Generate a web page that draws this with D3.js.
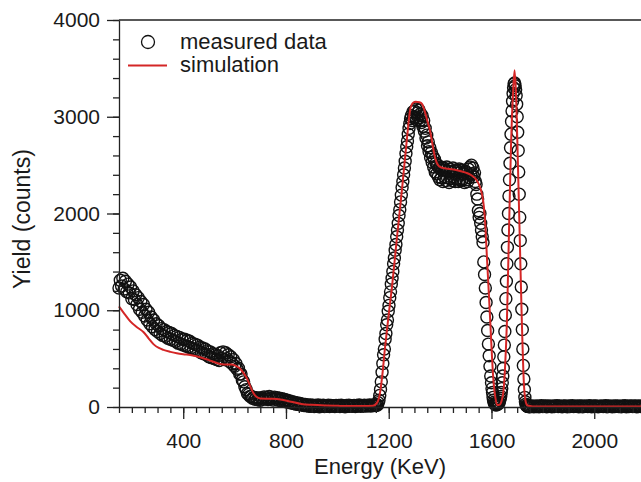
<!DOCTYPE html>
<html>
<head>
<meta charset="utf-8">
<script src="https://cdn.jsdelivr.net/npm/d3@7"></script>
<style>
  body { margin: 0; background: #fff; }
  svg text { font-family: "Liberation Sans", Arial, sans-serif; fill: #1a1a1a; }
</style>
</head>
<body>
<div id="chart"></div>
<script>
// measured spectrum, kept as runs of channels: first energy (keV), channel width, counts
const lowStart = 150, lowStep = 5;
const lowCounts = [
  1230, 1310, 1250, 1330, 1220, 1300, 1190, 1270, 1180, 1240,
  1120, 1200, 1110, 1160, 1060, 1130, 1010, 1090, 980, 1060,
  940, 1010, 900, 980, 860, 930, 830, 900, 800, 860,
  780, 840, 760, 810, 740, 800, 730, 780, 710, 770,
  700, 760, 690, 740, 680, 730, 660, 720, 650, 700,
  640, 700, 630, 690, 620, 680, 610, 660, 600, 650,
  590, 640, 580, 620, 560, 610, 550, 600, 540, 580,
  520, 570, 510, 550, 500, 540, 490, 530, 480, 560,
  500, 570, 490, 560, 500, 540, 470, 520, 450, 490,
  420, 450, 390, 400, 340, 340, 280, 260, 210, 180,
  140, 130, 110, 110, 90, 100, 80, 95, 75, 90,
  70
];
const midStart = 705, midStep = 5;
const midCounts = [
  95, 80, 105, 85, 100, 78, 110, 88, 96, 72, 102, 84, 95, 70, 90, 66, 85, 60, 78, 55,
  70, 48, 62, 40, 55, 35, 48, 28, 42, 25, 36, 20, 30, 15, 26, 12, 22, 8, 20, 6,
  18, 5, 16, 8, 20, 3, 15, 9, 18, 4, 14, 7, 19, 5, 16, 10, 13, 4, 17, 8,
  15, 5, 18, 9, 14, 3, 16, 8, 19, 6, 13, 10, 17, 4, 15, 9, 20, 7, 14, 11,
  18, 9, 16, 12, 21, 10, 18, 14, 20
];
const peakStart = 1150, peakStep = 3;
const peakCounts = [
  15, 25, 20, 45, 70, 120, 180, 260, 360, 450,
  540, 600, 700, 760, 850, 900, 990, 1050, 1130, 1190,
  1270, 1330, 1400, 1480, 1540, 1620, 1680, 1760, 1830, 1900,
  1980, 2040, 2120, 2190, 2270, 2330, 2400, 2470, 2540, 2620,
  2690, 2750, 2820, 2880, 2930, 2980, 3010, 2960, 3050, 2990,
  3060, 3000, 3080, 2970, 3040, 2990, 3070, 2960, 3030, 2940,
  3010, 2900, 2960, 2850, 2880, 2780, 2810, 2700, 2740, 2640,
  2680, 2580, 2630, 2530, 2590, 2480, 2560, 2430, 2520, 2410,
  2500, 2380, 2470, 2350, 2480, 2370, 2450, 2330, 2470, 2380,
  2450, 2340, 2480, 2370, 2440, 2320, 2460, 2360, 2430, 2340,
  2470, 2380, 2440, 2330, 2450, 2360, 2420, 2330, 2460, 2350,
  2430, 2340, 2450, 2360, 2410, 2320, 2440, 2350, 2420, 2330,
  2460, 2370, 2480, 2400, 2500, 2410, 2470, 2380, 2420, 2330,
  2300, 2200, 2150, 2030, 1960, 2000, 1900, 1830, 1760, 1700,
  1500, 1370, 1230, 1080, 930, 790, 650, 530, 420, 320
];
const narrowStart = 1600, narrowStep = 2;
const narrowCounts = [
  250, 190, 150, 100, 70, 50, 35, 25, 30, 20,
  35, 25, 40, 30, 50, 45, 70, 90, 110, 150,
  190, 250, 320, 400, 520, 640, 780, 950, 1120, 1300,
  1480, 1650, 1830, 2000, 2180, 2350, 2520, 2680, 2820, 2950,
  3060, 3160, 3240, 3300, 3340, 3350, 3320, 3280, 3220, 3130,
  3000, 2840, 2650, 2430, 2200, 1960, 1720, 1480, 1240, 1010,
  800, 600, 430, 290, 180, 100, 55, 30, 15, 10,
  8, 5, 6, 4, 5, 3
];
const tailStart = 1755, tailStep = 5;
const tailCounts = [
  6, 12, 3, 9, 5, 11, 2, 8, 13, 4,
  7, 10, 3, 12, 6, 9, 2, 11, 5, 8,
  13, 4, 10, 6, 2, 12, 7, 9, 3, 11,
  5, 8, 14, 4, 9, 6, 12, 2, 10, 7,
  3, 11, 6, 9, 4, 13, 8, 2, 10, 5,
  12, 7, 3, 9, 6, 11, 4, 8, 13, 2,
  10, 6, 9, 3, 12, 5, 8, 11, 4, 7,
  2, 10, 6, 13, 3, 9, 5, 12, 7, 4,
  11, 8, 2, 10, 6, 9, 3, 12, 5, 8
];

// simulated spectrum
const simEnergy = [
  150, 175, 194, 220, 245, 265, 284, 305, 323, 350,
  375, 400, 427, 466, 500, 531, 560, 590, 605, 620,
  635, 648, 660, 673, 685, 700, 740, 778, 820, 860,
  900, 950, 1000, 1050, 1100, 1140, 1155, 1165, 1175, 1185,
  1200, 1213, 1230, 1252, 1270, 1284, 1295, 1305, 1320, 1330,
  1340, 1350, 1362, 1372, 1381, 1392, 1405, 1430, 1466, 1500,
  1520, 1540, 1552, 1563, 1570, 1576, 1582, 1589, 1596, 1602,
  1608, 1615, 1622, 1632, 1640, 1647, 1653, 1660, 1668, 1676,
  1684, 1690, 1696, 1703, 1710, 1718, 1726, 1732, 1740, 1760,
  2000, 2400
];
const simCounts = [
  1040, 950, 885, 825, 775, 710, 650, 610, 590, 570,
  555, 545, 537, 515, 485, 455, 440, 440, 425, 400,
  350, 296, 220, 145, 105, 88, 85, 78, 55, 32,
  22, 15, 12, 10, 10, 14, 45, 130, 330, 600,
  960, 1250, 1700, 2260, 2750, 3080, 3145, 3155, 3150, 3130,
  3060, 2960, 2840, 2690, 2570, 2500, 2475, 2462, 2448, 2422,
  2398, 2352, 2295, 2200, 2080, 1880, 1560, 1208, 840, 517,
  260, 100, 20, 25, 70, 175, 420, 880, 1800, 2700,
  3250, 3480, 3200, 2500, 1750, 900, 250, 70, 15, 6,
  5, 5
];

const xMajor = [400, 800, 1200, 1600, 2000];
const yMajor = [0, 1000, 2000, 3000, 4000];
const legendLabels = ['measured data', 'simulation'];

const W = 641, H = 482;
const plot = { left: 119, right: 697, top: 20, bottom: 407 };
const red = '#d42626';

const runs = [
  [lowStart, lowStep, lowCounts],
  [midStart, midStep, midCounts],
  [peakStart, peakStep, peakCounts],
  [narrowStart, narrowStep, narrowCounts],
  [tailStart, tailStep, tailCounts]
];
const measured = [];
runs.forEach(([start, step, counts]) => {
  counts.forEach((c, i) => measured.push({ e: start + i * step, c: c }));
});
const sim = simEnergy.map((e, i) => ({ e: e, c: simCounts[i] }));

const x = d3.scaleLinear().domain([150, 2400]).range([plot.left, plot.right]);
const y = d3.scaleLinear().domain([0, 4000]).range([plot.bottom, plot.top]);

const svg = d3.select('#chart').append('svg')
  .attr('width', W).attr('height', H);

// frame: top edge and right edge
svg.append('path')
  .attr('d', `M${plot.left},${plot.top}H${plot.right}V${plot.bottom}`)
  .attr('fill', 'none').attr('stroke', '#222').attr('stroke-width', 1.3);

// data
svg.append('g').selectAll('circle')
  .data(measured)
  .join('circle')
  .attr('cx', d => x(d.e))
  .attr('cy', d => y(d.c))
  .attr('r', 6)
  .attr('fill', 'none')
  .attr('stroke', '#111')
  .attr('stroke-width', 1.4);

svg.append('path')
  .datum(sim)
  .attr('d', d3.line().x(d => x(d.e)).y(d => y(d.c)).curve(d3.curveMonotoneX))
  .attr('fill', 'none')
  .attr('stroke', red)
  .attr('stroke-width', 2);

// axes
function styleAxis(g) {
  g.select('.domain').attr('stroke', '#222').attr('stroke-width', 1.3);
  g.selectAll('.tick line').attr('stroke', '#222').attr('stroke-width', 1.3);
}

const xg = svg.append('g').attr('transform', `translate(0,${plot.bottom})`);
xg.append('g')
  .call(d3.axisBottom(x).tickValues(d3.range(150, 2401, 50)).tickSize(6).tickSizeOuter(0).tickFormat(''))
  .call(styleAxis);
xg.append('g')
  .call(d3.axisBottom(x).tickValues(xMajor).tickSize(12).tickSizeOuter(0).tickPadding(14).tickFormat(d3.format('d')))
  .call(styleAxis)
  .call(g => g.select('.domain').remove())
  .selectAll('text').attr('font-size', 21);

const yg = svg.append('g').attr('transform', `translate(${plot.left},0)`);
yg.append('g')
  .call(d3.axisLeft(y).tickValues(d3.range(0, 4001, 200)).tickSize(6).tickSizeOuter(0).tickFormat(''))
  .call(styleAxis);
yg.append('g')
  .call(d3.axisLeft(y).tickValues(yMajor).tickSize(12).tickSizeOuter(0).tickPadding(7).tickFormat(d3.format('d')))
  .call(styleAxis)
  .call(g => g.select('.domain').remove())
  .selectAll('text').attr('font-size', 21);

svg.append('text')
  .attr('x', 380).attr('y', 474)
  .attr('text-anchor', 'middle')
  .attr('font-size', 22)
  .text('Energy (KeV)');

svg.append('text')
  .attr('transform', 'translate(30,219) rotate(-90)')
  .attr('text-anchor', 'middle')
  .attr('font-size', 23)
  .text('Yield (counts)');

// legend
const legend = svg.append('g');
legend.append('circle')
  .attr('cx', 148).attr('cy', 42).attr('r', 6.5)
  .attr('fill', 'none').attr('stroke', '#111').attr('stroke-width', 1.3);
legend.append('line')
  .attr('x1', 128).attr('x2', 167).attr('y1', 65.5).attr('y2', 65.5)
  .attr('stroke', red).attr('stroke-width', 2);
legend.selectAll('text.lab')
  .data(legendLabels)
  .join('text')
  .attr('class', 'lab')
  .attr('x', 180)
  .attr('y', (d, i) => 48.5 + i * 23.5)
  .attr('font-size', 22)
  .text(d => d);
</script>
</body>
</html>
